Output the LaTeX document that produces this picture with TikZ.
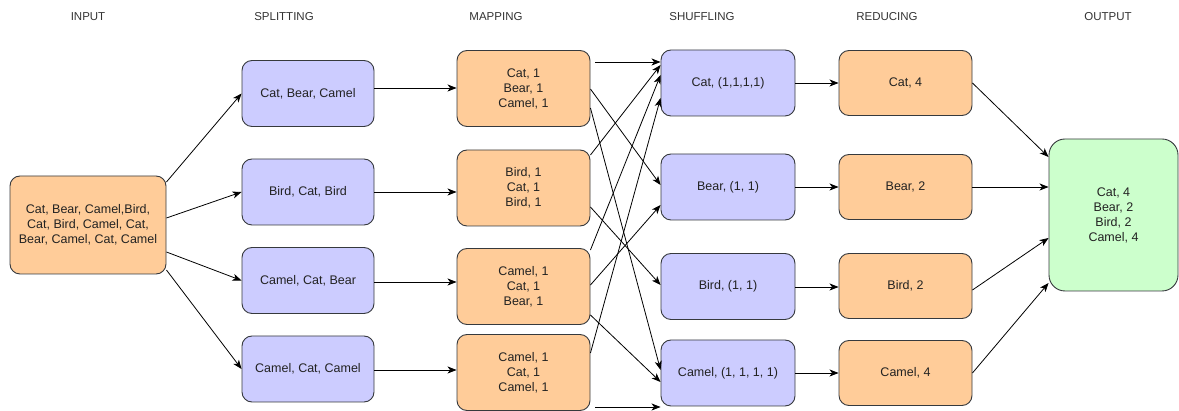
\documentclass[tikz,border=0pt]{standalone}
\usepackage{fontspec}
\setmainfont{Liberation Sans}
\usetikzlibrary{arrows.meta}
\definecolor{lav}{HTML}{CCCCFF}
\definecolor{org}{HTML}{FFCC99}
\definecolor{grn}{HTML}{CCFFCC}
\definecolor{bd}{HTML}{36393D}
\definecolor{txt}{HTML}{222222}
\definecolor{hd}{HTML}{333333}
\begin{document}
\begin{tikzpicture}[x=1pt,y=-1pt,
  box/.style={draw=bd, line width=0.9pt, rounded corners=10pt, align=center,
    font=\fontsize{12.5}{15}\selectfont, text=txt, inner sep=0pt},
  splitbox/.style={box, fill=lav, minimum width=132pt, minimum height=66pt},
  mapbox/.style={box, fill=org, minimum width=133pt, minimum height=76pt},
  shufbox/.style={box, fill=lav, minimum width=134pt, minimum height=66pt},
  redbox/.style={box, fill=org, minimum width=133pt, minimum height=65pt},
  hdr/.style={font=\fontsize{11.5}{13}\selectfont, text=hd, inner sep=0pt},
  arr/.style={draw=black, line width=0.8pt, -{Stealth[length=9pt,width=7pt,inset=2.5pt]}}
]
\useasboundingbox (0,0) rectangle (1179,411);

% headers
\node[hdr] (hin)  at (88,17)   {INPUT};
\node[hdr] (hsp)  at (284,17)  {SPLITTING};
\node[hdr] (hmap) at (496,17)  {MAPPING};
\node[hdr] (hsh)  at (702,17)  {SHUFFLING};
\node[hdr] (hred) at (887,17)  {REDUCING};
\node[hdr] (hout) at (1108,17) {OUTPUT};

% input
\node[box, fill=org, minimum width=156pt, minimum height=98pt] (in) at (88,225)
  {Cat, Bear, Camel,Bird,\\Cat, Bird, Camel, Cat,\\Bear, Camel, Cat, Camel};

% splitting
\node[splitbox] (sp1) at (308,93.5) {Cat, Bear, Camel};
\node[splitbox] (sp2) at (308,192)  {Bird, Cat, Bird};
\node[splitbox] (sp3) at (308,280.5){Camel, Cat, Bear};
\node[splitbox] (sp4) at (308,369)  {Camel, Cat, Camel};

% mapping
\node[mapbox] (m1) at (523.5,88.5) {Cat, 1\\Bear, 1\\Camel, 1};
\node[mapbox] (m2) at (523.5,188)  {Bird, 1\\Cat, 1\\Bird, 1};
\node[mapbox] (m3) at (523.5,286.5){Camel, 1\\Cat, 1\\Bear, 1};
\node[mapbox] (m4) at (523.5,372.5){Camel, 1\\Cat, 1\\Camel, 1};

% shuffling
\node[shufbox] (sh1) at (728,83)   {Cat, (1,1,1,1)};
\node[shufbox] (sh2) at (728,187)  {Bear, (1, 1)};
\node[shufbox] (sh3) at (728,286.5){Bird, (1, 1)};
\node[shufbox] (sh4) at (728,373)  {Camel, (1, 1, 1, 1)};

% reducing
\node[redbox] (r1) at (905.5,83)  {Cat, 4};
\node[redbox] (r2) at (905.5,187) {Bear, 2};
\node[redbox] (r3) at (905.5,286) {Bird, 2};
\node[redbox] (r4) at (905.5,373) {Camel, 4};

% output
\node[box, fill=grn, minimum width=129pt, minimum height=152pt, rounded corners=16pt] (out) at (1113.5,215)
  {Cat, 4\\Bear, 2\\Bird, 2\\Camel, 4};

% input -> splitting
\draw[arr] (in.east |- 0,182) -- (sp1.west);
\draw[arr] (in.east |- 0,218) -- (sp2.west);
\draw[arr] (in.east |- 0,252) -- (sp3.west);
\draw[arr] (in.east |- 0,270) -- (sp4.west);

% splitting -> mapping
\draw[arr] (sp1.east |- 0,88)  -- (m1.west |- 0,88);
\draw[arr] (sp2.east |- 0,192) -- (m2.west |- 0,192);
\draw[arr] (sp3.east |- 0,282) -- (m3.west |- 0,282);
\draw[arr] (sp4.east |- 0,370) -- (m4.west |- 0,370);

% mapping -> shuffling
\draw[arr] ([xshift=5pt]m1.east |- 0,62) -- (sh1.west |- 0,62);
\draw[arr] (m1.east |- 0,89)  -- (sh2.west |- 0,185);
\draw[arr] (m1.east |- 0,108) -- (sh4.west |- 0,370);
\draw[arr] (m2.east |- 0,155) -- (sh1.west |- 0,65);
\draw[arr] (m2.east |- 0,207) -- (sh3.west |- 0,285);
\draw[arr] (m3.east |- 0,250) -- (sh1.west |- 0,75);
\draw[arr] (m3.east |- 0,285) -- (sh2.west |- 0,205);
\draw[arr] (m3.east |- 0,315) -- (sh4.west |- 0,382);
\draw[arr] (m4.east |- 0,353) -- (sh1.west |- 0,98);
\draw[arr] ([xshift=5pt]m4.east |- 0,407) -- (sh4.west |- 0,407);

% shuffling -> reducing
\draw[arr] (sh1.east) -- (r1.west);
\draw[arr] (sh2.east) -- (r2.west);
\draw[arr] (sh3.east |- 0,287) -- (r3.west |- 0,287);
\draw[arr] (sh4.east) -- (r4.west);

% reducing -> output
\draw[arr] (r1.east) -- (out.west |- 0,157);
\draw[arr] (r2.east) -- (out.west |- 0,187);
\draw[arr] (r3.east |- 0,290) -- (out.west |- 0,238);
\draw[arr] (r4.east) -- (out.west |- 0,283);
\end{tikzpicture}
\end{document}
